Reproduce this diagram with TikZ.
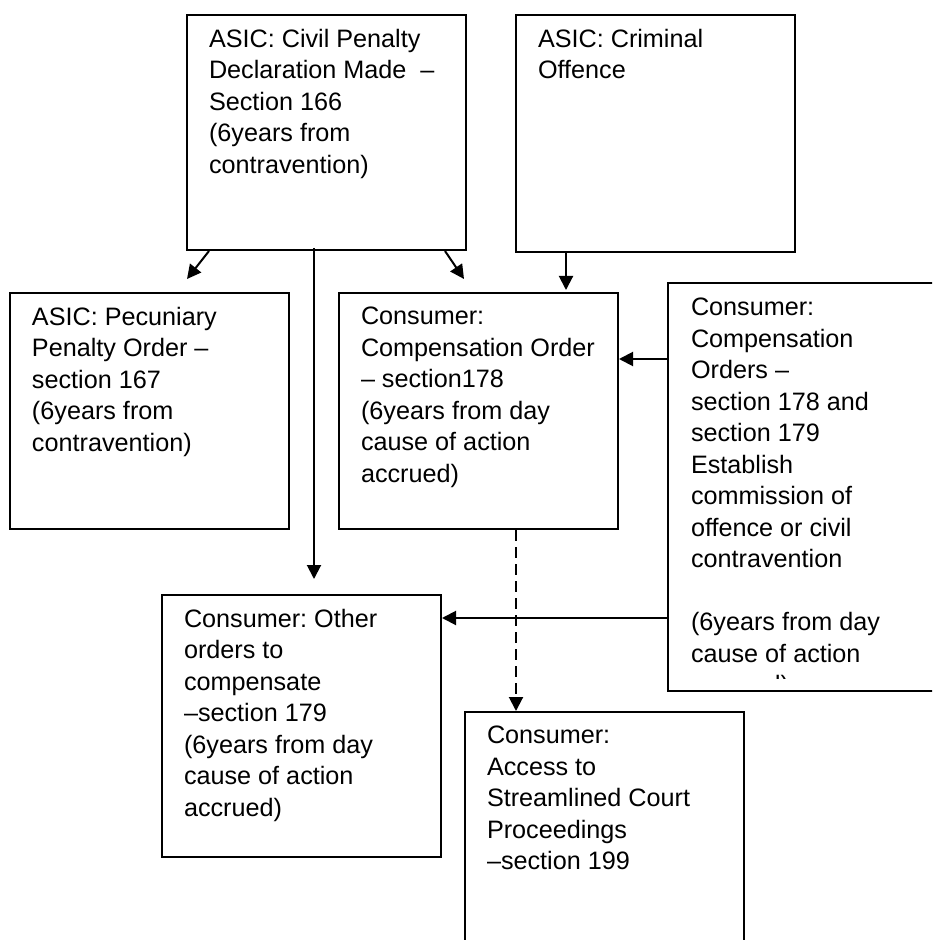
\documentclass[tikz,border=0pt]{standalone}
\usepackage{fontspec}
\setmainfont{Liberation Sans}
\usetikzlibrary{arrows.meta,calc}
\frenchspacing

\newcommand{\boxtext}[2]{\parbox[c][#1][t]{117.5pt}{\raggedright #2}}

\tikzset{
  flowbox/.style={draw, line width=1pt, inner xsep=11pt, inner ysep=7pt,
    minimum width=139.5pt, anchor=north west,
    font=\fontsize{12.6pt}{15.75pt}\selectfont},
  link/.style={-{Triangle[length=7pt,width=7pt]}, line width=1pt},
}

\begin{document}
\begin{tikzpicture}[x=0.5pt, y=-0.5pt]
    \clip (0,0) rectangle (932,940);
    \fill[white] (0,0) rectangle (932,940);

    % ASIC
    \node[flowbox] (civil) at (186,14) {\boxtext{103.5pt}{ASIC: Civil Penalty\\Declaration Made\ \ –\\Section 166\\(6years from\\contravention)}};
    \node[flowbox] (criminal) at (515,14) {\boxtext{104.5pt}{ASIC: Criminal\\Offence}};
    \node[flowbox] (pecuniary) at (9,292) {\boxtext{104pt}{ASIC: Pecuniary\\Penalty Order –\\section 167\\(6years from\\contravention)}};

    % Consumer
    \node[flowbox] (comp) at (338,292) {\boxtext{104pt}{Consumer:\\Compensation Order\\– section178\\(6years from day\\cause of action\\accrued)}};
    \node[flowbox, path picture={
        \clip (path picture bounding box.north west) rectangle ([yshift=6.5pt]path picture bounding box.south east);
        \node[anchor=north west, inner sep=0pt, minimum width=0pt, minimum height=0pt,
              font=\fontsize{12.6pt}{15.75pt}\selectfont]
          at ($(path picture bounding box.north west)+(22,14)$)
          {\parbox[t]{117.5pt}{\raggedright Consumer:\\Compensation\\Orders –\\section 178 and\\section 179\\Establish\\commission of\\offence or civil\\contravention\\\mbox{}\\(6years from day\\cause of action\\accrued)}};
      }] (comp2) at (667,282) {\boxtext{190pt}{\mbox{}}};
    \node[flowbox] (other) at (161,594) {\boxtext{117pt}{Consumer: Other\\orders to\\compensate\\–section 179\\(6years from day\\cause of action\\accrued)}};
    \node[flowbox] (access) at (464,711) {\boxtext{116pt}{Consumer:\\Access to\\Streamlined Court\\Proceedings\\–section 199}};

    % Frecce
    \draw[link] ($(civil.south west)+(23,0)$) -- ($(pecuniary.north west)+(178,-13)$);
    \draw[link] ($(civil.south east)+(-22,0)$) -- ($(comp.north west)+(126,-13)$);
    \draw[link] ($(civil.south)+(-12.5,-3)$) -- ($(other.north)+(12.5,-15)$);
    \draw[link] ($(criminal.south west)+(51,0)$) -- ($(comp.north west)+(228,-2)$);
    \draw[link] ($(comp2.north west)+(0,77)$) -- ($(comp.north east)+(0,67)$);
    \draw[link] ($(comp2.north west)+(0,336)$) -- ($(other.north east)+(0,24)$);
    \draw[link, dash pattern=on 5.5pt off 3pt] ($(comp.south west)+(178,0)$) -- ($(access.north west)+(52,0)$);
\end{tikzpicture}
\end{document}
